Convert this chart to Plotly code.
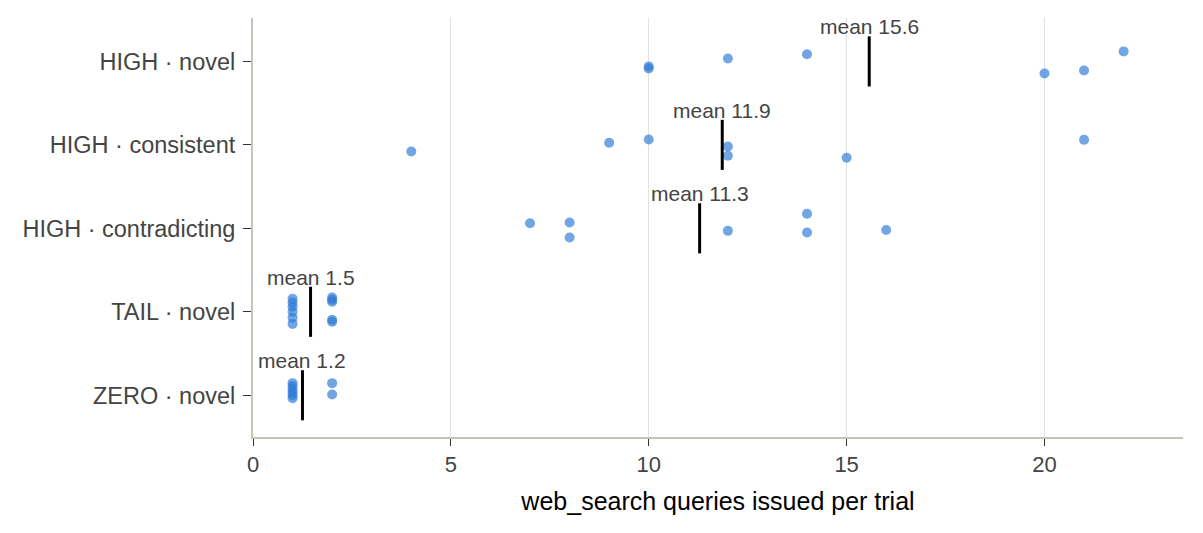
import plotly.graph_objects as go

categories = ["ZERO · novel", "TAIL · novel", "HIGH · contradicting", "HIGH · consistent", "HIGH · novel"]

values = {
    "ZERO · novel": [1, 1, 1, 1, 1, 1, 2, 2],
    "TAIL · novel": [1, 1, 1, 1, 1, 1, 2, 2, 2, 2, 2],
    "HIGH · contradicting": [7, 8, 8, 12, 14, 14, 16],
    "HIGH · consistent": [4, 9, 10, 12, 12, 15, 21],
    "HIGH · novel": [10, 10, 12, 14, 20, 21, 22],
}

# vertical jitter offsets (category units)
jitter = {
    "ZERO · novel": [0.145, 0.11, 0.07, 0.035, 0.0, -0.035, 0.145, 0.01],
    "TAIL · novel": [0.155, 0.11, 0.06, 0.0, -0.07, -0.145, 0.17, 0.145, 0.12, -0.095, -0.12],
    "HIGH · contradicting": [0.06, 0.07, -0.11, -0.03, 0.175, -0.05, -0.02],
    "HIGH · consistent": [-0.08, 0.025, 0.065, -0.02, -0.13, -0.155, 0.06],
    "HIGH · novel": [-0.06, -0.085, 0.035, 0.085, -0.145, -0.11, 0.12],
}

x_ticks = [0, 5, 10, 15, 20]

FONT = "Liberation Sans, Arial, sans-serif"

fig = go.Figure()

for i, cat in enumerate(categories):
    xs = values[cat]
    ys = [i + j for j in jitter[cat]]
    fig.add_trace(go.Scatter(
        x=xs, y=ys, mode="markers",
        marker=dict(size=10, color="#2e7bd6", opacity=0.68, line=dict(width=0)),
        showlegend=False, hoverinfo="x",
    ))
    m = sum(xs) / len(xs)
    fig.add_shape(type="line", x0=m, x1=m, y0=i - 0.3, y1=i + 0.3,
                  xref="x", yref="y", line=dict(color="black", width=3))
    fig.add_annotation(x=m, y=i + 0.3, text=f"mean {m:.1f}", showarrow=False,
                       xanchor="center", yanchor="bottom", yshift=-4,
                       font=dict(size=21, color="#444444", family=FONT))

fig.update_layout(
    width=1203, height=533,
    margin=dict(l=253, r=20, t=18, b=96),
    plot_bgcolor="white", paper_bgcolor="white",
    font=dict(family=FONT, color="#444444"),
)
fig.update_xaxes(
    range=[0, 23.5], tickvals=x_ticks, ticktext=[str(t) for t in x_ticks],
    showgrid=True, gridcolor="#e2e2e2", gridwidth=1,
    zeroline=False, showline=True, linecolor="#c4c4b8", linewidth=2,
    ticks="outside", ticklen=7, tickcolor="#333333", tickwidth=1,
    tickfont=dict(size=22, color="#444444"),
    title=dict(text="web_search queries issued per trial", font=dict(size=25, color="black"), standoff=16),
)
fig.update_yaxes(
    range=[-0.5, 4.52], tickvals=list(range(len(categories))), ticktext=categories,
    showgrid=False, zeroline=False, showline=True, linecolor="#c4c4b8", linewidth=2,
    ticks="outside", ticklen=8, tickcolor="#333333", tickwidth=1,
    ticklabelstandoff=3,
    tickfont=dict(size=23.5, color="#444444"),
)

fig.write_html("out.html")
